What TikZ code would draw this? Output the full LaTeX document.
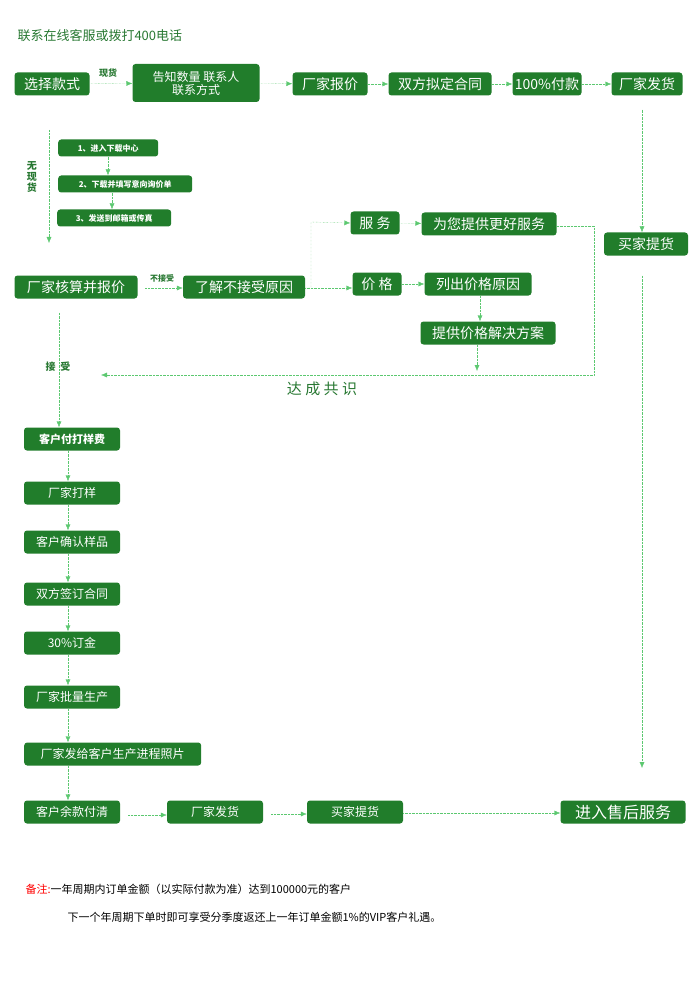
\documentclass[tikz,border=0pt]{standalone}
\usepackage{fontspec}
\newfontfamily\cjk{Noto Sans CJK SC}
\usetikzlibrary{positioning,arrows.meta}
\definecolor{boxgreen}{RGB}{33,125,43}
\definecolor{linegreen}{RGB}{92,200,112}
\definecolor{txtgreen}{RGB}{40,120,50}
\begin{document}
\begin{tikzpicture}[x=1pt,y=-1pt,
	main/.style={rectangle, rounded corners=3pt, fill=boxgreen, text=white, font=\cjk\fontsize{14}{16}\selectfont, minimum height=23pt, inner sep=1pt, text centered},
	tip/.style={rectangle, rounded corners=3pt, fill=boxgreen, text=white, font=\cjk\bfseries\fontsize{8}{9}\selectfont, minimum height=17pt, inner sep=1pt},
	col/.style={main, minimum width=96pt, font=\cjk\fontsize{12}{14}\selectfont},
	lab/.style={text=txtgreen, font=\cjk\bfseries\fontsize{9}{10}\selectfont, inner sep=0pt},
	link/.style={draw=linegreen, densely dotted, -{Latex[length=6pt,width=5pt]}},
	plain/.style={draw=linegreen, densely dotted}
	]
	\useasboundingbox (0,0) rectangle (700,1000);

	\node (title) [anchor=west, text=txtgreen, font=\cjk\fontsize{13}{15}\selectfont] at (14,36) {联系在线客服或拨打400电话};

	% top row
	\node (choose) [main, minimum width=75pt] at (52,84) {选择款式};
	\node (tell) [main, minimum width=127pt, minimum height=38pt, align=center, font=\cjk\fontsize{12}{13}\selectfont] at (196,83) {告知数量\ 联系人\\联系方式};
	\node (quote) [main, minimum width=75pt] at (330,84) {厂家报价};
	\node (contract) [main, minimum width=103pt] at (440,84) {双方拟定合同};
	\node (pay) [main, minimum width=69pt] at (547,84) {100\%付款};
	\node (ship) [main, minimum width=71pt] at (647,84) {厂家发货};
	\node (pickup) [main, minimum width=84pt] at (646,244) {买家提货};

	\node (instock) [lab] at (108,73) {现货};
	\draw [link] (choose) -- (tell);
	\draw [link] (tell) -- (quote);
	\draw [link] (quote) -- (contract);
	\draw [link] (contract) -- (pay);
	\draw [link] (pay) -- (ship);
	\draw [link] (ship.south -| 642,0) ++(0,14) -- (pickup.north -| 642,0);
	\coordinate (pickend) at (642,768);
	\draw [link] (pickup.south -| pickend) ++(0,20) -- (pickend);

	% no stock steps
	\node (step1) [tip, minimum width=100pt, anchor=west] at (58,148) {1、进入下载中心};
	\node (step2) [tip, minimum width=134pt, anchor=west] at (58,184) {2、下载并填写意向询价单};
	\node (step3) [tip, minimum width=114pt, anchor=west] at (57,218) {3、发送到邮箱或传真};
	\draw [link] (step1.south -| 108,0) -- (step2.north -| 108,0);
	\draw [link] (step2.south -| 112,0) -- (step3.north -| 112,0);
	\node (nostock) [lab, align=center, font=\cjk\bfseries\fontsize{10}{11}\selectfont] at (32,177) {无\\现\\货};
	\coordinate (nstop) at (49,130);
	\coordinate (nsend) at (49,243);
	\draw [link] (nstop) -- (nsend);

	% reject branch
	\node (calc) [main, minimum width=123pt] at (76,287) {厂家核算并报价};
	\node (reason) [main, minimum width=122pt] at (244,287) {了解不接受原因};
	\node (reject) [lab, font=\cjk\bfseries\fontsize{8}{9}\selectfont] at (162,278) {不接受};
	\draw [link] (calc) ++(69,1) -- (reason.west |- 0,288);
	\node (service) [main, minimum width=49pt] at (375,223) {服\ 务};
	\node (better) [main, minimum width=135pt] at (489,224) {为您提供更好服务};
	\node (price) [main, minimum width=49pt] at (377,284) {价\ 格};
	\node (list) [main, minimum width=107pt] at (478,284) {列出价格原因};
	\node (solve) [main, minimum width=135pt] at (488,333) {提供价格解决方案};
	\draw [link] (reason.east |- 0,288) -| (311,222) -- (service.west);
	\draw [link] (reason.east |- 0,288) -- (price.west |- 0,288);
	\draw [link] (service) -- (better);
	\draw [link] (price) -- (list);
	\draw [link] (list.south -| 480,0) -- (solve.north -| 480,0);
	\draw [link] (solve.south -| 477,0) -- (477,371);
	\coordinate (agree) at (101,375);
	\draw [link] (better.east |- 0,226) -| (594,375) -- (agree);
	\node (accept) [lab, font=\cjk\bfseries\fontsize{10}{11}\selectfont] at (58,367) {接\ \ 受};
	\node (consensus) [text=txtgreen, font=\cjk\fontsize{15}{17}\selectfont] at (322,389) {达\ 成\ 共\ 识};

	% order column
	\node (sample) [col, font=\cjk\bfseries\fontsize{11}{13}\selectfont] at (72,439) {客户付打样费};
	\node (make) [col] at (72,493) {厂家打样};
	\node (confirm) [col] at (72,542) {客户确认样品};
	\node (sign) [col] at (72,594) {双方签订合同};
	\node (deposit) [col] at (72,643) {30\%订金};
	\node (mass) [col] at (72,697) {厂家批量生产};
	\node (photo) [col, minimum width=177pt, anchor=west] at (24,754) {厂家发给客户生产进程照片};
	\node (balance) [col] at (72,812) {客户余款付清};
	\draw [link] (calc.south -| 59,0) ++(0,14) -- (sample.north -| 59,0);
	\draw [link] (sample.south -| 68,0) -- (make.north -| 68,0);
	\draw [link] (make.south -| 68,0) -- (confirm.north -| 68,0);
	\draw [link] (confirm.south -| 68,0) -- (sign.north -| 68,0);
	\draw [link] (sign.south -| 68,0) -- (deposit.north -| 68,0);
	\draw [link] (deposit.south -| 68,0) -- (mass.north -| 68,0);
	\draw [link] (mass.south -| 68,0) -- (photo.north -| 68,0);
	\draw [link] (photo.south -| 68,0) -- (balance.north -| 68,0);

	% bottom row
	\node (ship2) [col] at (215,812) {厂家发货};
	\node (pick2) [col] at (355,812) {买家提货};
	\node (after) [main, minimum width=125pt, font=\cjk\fontsize{16}{18}\selectfont] at (623,812) {进入售后服务};
	\draw [link] (balance) ++(56,3) -- (ship2.west |- 0,815);
	\draw [link] (ship2) ++(56,2) -- (pick2.west |- 0,814);
	\draw [link] (pick2.east |- 0,813) -- (after.west |- 0,813);

	% note
	\node (note1) [anchor=west, font=\cjk\fontsize{11}{13}\selectfont] at (22,889) {\textcolor{red}{备注:}一年周期内订单金额（以实际付款为准）达到100000元的客户};
	\node (note2) [anchor=west, font=\cjk\fontsize{11}{13}\selectfont] at (64,917) {下一个年周期下单时即可享受分季度返还上一年订单金额1\%的VIP客户礼遇。};
\end{tikzpicture}
\end{document}
